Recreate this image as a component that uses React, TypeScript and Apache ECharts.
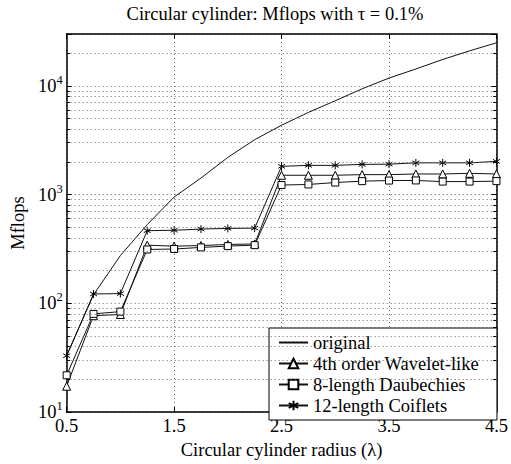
import React, { useEffect, useRef } from "react";
import * as echarts from "echarts";

const radius = [0.5, 0.75, 1.0, 1.25, 1.5, 1.75, 2.0, 2.25, 2.5, 2.75, 3.0, 3.25, 3.5, 3.75, 4.0, 4.25, 4.5];
const original = [33, 120, 275, 530, 950, 1420, 2200, 3200, 4350, 5700, 7300, 9400, 11800, 14300, 17500, 21000, 24900];
const wavelet4 = [17.3, 77, 79, 343, 336, 340, 348, 352, 1507, 1507, 1507, 1527, 1527, 1548, 1548, 1570, 1548];
const daub8 = [21.8, 80, 84, 313, 316, 327, 336, 343, 1225, 1240, 1291, 1330, 1347, 1350, 1318, 1318, 1330];
const coif12 = [33, 122, 123, 466, 470, 482, 489, 492, 1820, 1858, 1858, 1897, 1905, 1960, 1960, 1960, 2020];

const titleText = "Circular cylinder: Mflops with \u03c4 = 0.1%";
const seriesNames = ["original", "4th order Wavelet-like", "8-length Daubechies", "12-length Coiflets"];
const xTicks = [0.5, 1.5, 2.5, 3.5, 4.5];
const yMin = 10;
const yMax = 30000;
const minorGrid = [20, 30, 40, 50, 60, 70, 80, 90, 200, 300, 400, 500, 600, 700, 800, 900, 2000, 3000, 4000, 5000, 6000, 7000, 8000, 9000, 20000];

const FONT = "Liberation Serif";
const FS = 18.5;
const ASTERISK = "path://M5,0L5,10M0.67,2.5L9.33,7.5M0.67,7.5L9.33,2.5";

export default function App() {
  const ref = useRef<HTMLDivElement>(null);
  useEffect(() => {
    if (!ref.current) return;
    const chart = echarts.init(ref.current, undefined, { renderer: "svg" });
    const pairs = (ys: number[]) => radius.map((x, i) => [x, ys[i]]);
    const xMin = xTicks[0];
    const xMax = xTicks[xTicks.length - 1];
    const tickLen = 0.03;
    const gridDots = { type: [1, 3] as any, color: "#666", width: 1 };
    const markData: any[] = [];
    minorGrid.forEach((v) => {
      markData.push([{ coord: [xMin, v], lineStyle: gridDots }, { coord: [xMax, v] }]);
      markData.push([{ coord: [xMin, v], lineStyle: { type: "solid", color: "#000", width: 1 } }, { coord: [xMin + tickLen, v] }]);
      markData.push([{ coord: [xMax - tickLen, v], lineStyle: { type: "solid", color: "#000", width: 1 } }, { coord: [xMax, v] }]);
    });
    const yLabel = (v: number) => {
      const e = Math.round(Math.log10(v));
      if (Math.abs(Math.pow(10, e) - v) > 1e-6 * v) return "";
      return "{b|10}{s|" + e + "}";
    };
    const txt = { fontFamily: FONT, fontSize: FS, color: "#000", fontWeight: "normal" as const };
    const baseLine = { type: "line" as const, color: "#000", lineStyle: { color: "#111", width: 1 }, itemStyle: { color: "#fff", borderColor: "#000", borderWidth: 1 }, emphasis: { disabled: true }, z: 3 };
    chart.setOption({
      animation: false,
      color: ["#000", "#000", "#000", "#000"],
      textStyle: { fontFamily: FONT },
      graphic: [
        {
          type: "text",
          x: 275,
          y: 14,
          silent: true,
          style: { text: titleText, fontFamily: FONT, fontSize: 18.5, fill: "#000", align: "center", verticalAlign: "middle" },
        },
      ],
      grid: { left: 60, right: 12, top: 34, bottom: 46, containLabel: false },
      legend: {
        orient: "vertical",
        left: 269,
        top: 328,
        data: seriesNames,
        itemWidth: 29,
        itemHeight: 12,
        itemGap: 0,
        padding: [4, 18, 4, 9],
        backgroundColor: "#fff",
        borderColor: "#000",
        borderWidth: 1,
        textStyle: { ...txt, lineHeight: 21 },
        selectedMode: false,
      },
      xAxis: [
        {
          type: "value",
          min: xMin,
          max: xMax,
          interval: 1,
          name: "Circular cylinder radius (\u03bb)",
          nameLocation: "middle",
          nameGap: 22,
          nameTextStyle: { ...txt },
          axisLine: { show: true, onZero: false, lineStyle: { color: "#000", width: 1.5 } },
          axisTick: { show: true, inside: true, length: 5, lineStyle: { color: "#000" } },
          axisLabel: { ...txt, margin: 4, showMinLabel: true, showMaxLabel: true },
          splitLine: { show: true, lineStyle: gridDots },
        },
        {
          type: "value",
          position: "top",
          min: xMin,
          max: xMax,
          interval: 1,
          axisLine: { show: true, onZero: false, lineStyle: { color: "#000", width: 1.5 } },
          axisTick: { show: true, inside: true, length: 5, lineStyle: { color: "#000" } },
          axisLabel: { show: false },
          splitLine: { show: false },
        },
      ],
      yAxis: [
        {
          type: "log",
          logBase: 10,
          min: yMin,
          max: yMax,
          name: "Mflops",
          nameLocation: "middle",
          nameGap: 22,
          nameTextStyle: { ...txt },
          axisLine: { show: true, onZero: false, lineStyle: { color: "#000", width: 1.5 } },
          axisTick: { show: true, inside: true, length: 5, lineStyle: { color: "#000" } },
          axisLabel: {
            margin: 4,
            formatter: yLabel,
            showMinLabel: true,
            fontFamily: FONT,
            rich: {
              b: { fontFamily: FONT, fontSize: FS, color: "#000", lineHeight: 18 },
              s: { fontFamily: FONT, fontSize: 12.5, color: "#000", lineHeight: 12, padding: [0, 0, 12, 0] },
            },
          },
          splitLine: { show: true, lineStyle: gridDots },
        },
        {
          type: "log",
          logBase: 10,
          min: yMin,
          max: yMax,
          position: "right",
          axisLine: { show: true, onZero: false, lineStyle: { color: "#000", width: 1.5 } },
          axisTick: { show: true, inside: true, length: 5, lineStyle: { color: "#000" } },
          axisLabel: { show: false },
          splitLine: { show: false },
        },
      ],
      series: [
        {
          type: "line",
          name: "_grid",
          data: [[xMin, yMin]],
          symbol: "none",
          lineStyle: { opacity: 0 },
          silent: true,
          z: 1,
          markLine: { silent: true, symbol: ["none", "none"], label: { show: false }, emphasis: { disabled: true }, data: markData, animation: false },
        },
        { ...baseLine, name: seriesNames[0], data: pairs(original), symbol: "none", itemStyle: { color: "transparent", borderColor: "transparent", borderWidth: 0 } },
        { ...baseLine, name: seriesNames[1], data: pairs(wavelet4), symbol: "triangle", symbolSize: 8 },
        { ...baseLine, name: seriesNames[2], data: pairs(daub8), symbol: "rect", symbolSize: 7 },
        { ...baseLine, name: seriesNames[3], data: pairs(coif12), symbol: ASTERISK, symbolSize: 8, symbolKeepAspect: true },
      ],
    });
    return () => chart.dispose();
  }, []);
  return <div ref={ref} style={{ position: "absolute", left: 0, top: 0, width: 511, height: 464 }} />;
}
